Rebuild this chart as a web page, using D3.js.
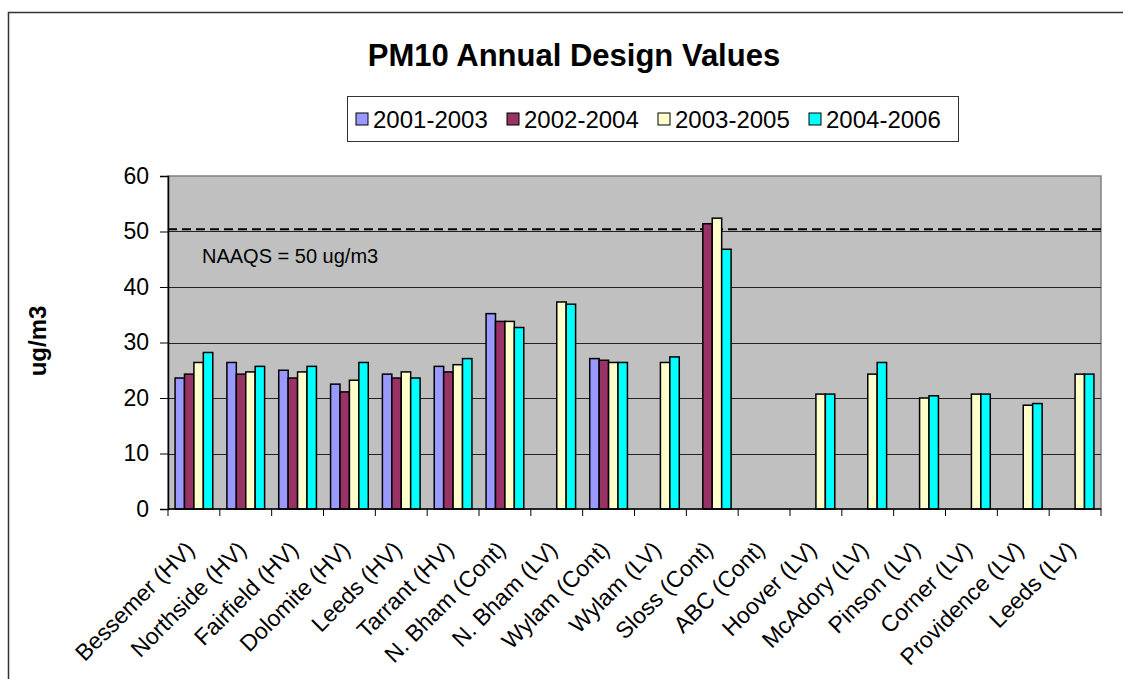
<!DOCTYPE html>
<html>
<head>
<meta charset="utf-8">
<script src="https://cdn.jsdelivr.net/npm/d3@7"></script>
<style>
  html, body { margin: 0; padding: 0; background: #fff; }
  #chart { width: 1123px; height: 679px; }
  text { font-family: Arial, "Liberation Sans", sans-serif; }
</style>
</head>
<body>
<div id="chart"></div>
<script>
const categories = ['Bessemer (HV)', 'Northside (HV)', 'Fairfield (HV)', 'Dolomite (HV)', 'Leeds (HV)',
    'Tarrant (HV)', 'N. Bham (Cont)', 'N. Bham (LV)', 'Wylam (Cont)', 'Wylam (LV)', 'Sloss (Cont)',
    'ABC (Cont)', 'Hoover (LV)', 'McAdory (LV)', 'Pinson (LV)', 'Corner (LV)', 'Providence (LV)', 'Leeds (LV)'];
const seriesNames = ['2001-2003', '2002-2004', '2003-2005', '2004-2006'];
const v2001_2003 = [23.6, 26.4, 25.0, 22.5, 24.3, 25.7, 35.2, null, 27.1, null, null, null, null, null, null, null, null, null];
const v2002_2004 = [24.3, 24.3, 23.6, 21.1, 23.6, 24.7, 33.8, null, 26.8, null, 51.4, null, null, null, null, null, null, null];
const v2003_2005 = [26.4, 24.7, 24.7, 23.2, 24.7, 26.0, 33.8, 37.3, 26.4, 26.4, 52.4, null, 20.7, 24.3, 20.0, 20.7, 18.7, 24.3];
const v2004_2006 = [28.2, 25.7, 25.7, 26.4, 23.6, 27.1, 32.7, 36.9, 26.4, 27.4, 46.8, null, 20.7, 26.4, 20.4, 20.7, 19.0, 24.3];
const yTicks = [0, 10, 20, 30, 40, 50, 60];
const naaqsLine = 50.4;
const naaqsLabel = 'NAAQS = 50 ug/m3';
const colors = ['#9999FF', '#993366', '#FFFFCC', '#00FFFF'];

class DesignValues {
    constructor(_config) {
        this.config = {
            parentElementSelector: _config.parentElementSelector,
            margin: _config.margin || { top: 176, right: 22, bottom: 170, left: 168 },
        };
        this.width = 1123 - this.config.margin.left - this.config.margin.right;
        this.height = 679 - this.config.margin.top - this.config.margin.bottom;
        this.initVis();
    }

    initVis() {
        const m = this.config.margin;
        this.svg = d3.select(this.config.parentElementSelector)
            .append('svg')
            .attr('width', 1123)
            .attr('height', 679);

        // chart area border (runs off the right and bottom of the picture)
        this.svg.append('rect')
            .attr('x', 8.5).attr('y', 12.5)
            .attr('width', 1300).attr('height', 800)
            .attr('fill', 'none').attr('stroke', '#333').attr('stroke-width', 1.5);

        this.svg.append('text')
            .attr('x', 574).attr('y', 66)
            .attr('text-anchor', 'middle')
            .style('font-size', '31px').style('font-weight', 'bold')
            .text('PM10 Annual Design Values');

        this.g = this.svg.append('g')
            .attr('transform', `translate(${m.left},${m.top})`);

        this.x = d3.scaleBand().domain(categories).range([0, this.width]).padding(0);
        this.xs = d3.scaleBand().domain(seriesNames)
            .range([0, this.x.bandwidth()]).paddingInner(0).paddingOuter(0.75);
        this.y = d3.scaleLinear().domain([0, 60]).range([this.height, 0]);

        this.updateVis();
    }

    updateVis() {
        const g = this.g;
        const series = [v2001_2003, v2002_2004, v2003_2005, v2004_2006];

        g.append('rect')
            .attr('width', this.width).attr('height', this.height)
            .attr('fill', '#C0C0C0').attr('stroke', '#808080').attr('stroke-width', 1.5);

        g.selectAll('.grid')
            .data(yTicks.filter(t => t > 0 && t < 60))
            .join('line')
            .attr('class', 'grid')
            .attr('x1', 0).attr('x2', this.width)
            .attr('y1', d => Math.round(this.y(d)) + 0.5).attr('y2', d => Math.round(this.y(d)) + 0.5)
            .attr('stroke', '#222').attr('stroke-width', 1);

        g.append('line')
            .attr('x1', 0).attr('x2', this.width)
            .attr('y1', this.y(naaqsLine)).attr('y2', this.y(naaqsLine))
            .attr('stroke', '#000').attr('stroke-width', 2).attr('stroke-dasharray', '9,5');

        g.append('text')
            .attr('x', 34).attr('y', this.y(44.3))
            .style('font-size', '20px')
            .text(naaqsLabel);

        const bars = [];
        series.forEach((vals, si) => {
            vals.forEach((v, ci) => {
                if (v != null) bars.push({ cat: categories[ci], s: seriesNames[si], v, c: colors[si] });
            });
        });

        g.selectAll('.bar')
            .data(bars)
            .join('rect')
            .attr('class', 'bar')
            .attr('x', d => this.x(d.cat) + this.xs(d.s))
            .attr('y', d => this.y(d.v))
            .attr('width', this.xs.bandwidth())
            .attr('height', d => this.height - this.y(d.v))
            .attr('fill', d => d.c)
            .attr('stroke', '#000').attr('stroke-width', 1.5);

        // y axis
        const yAxisG = g.append('g')
            .call(d3.axisLeft(this.y).tickValues(yTicks).tickSize(8).tickPadding(11));
        yAxisG.select('.domain').attr('stroke', '#000').attr('stroke-width', 1.5);
        yAxisG.selectAll('.tick line').attr('stroke', '#000');
        yAxisG.selectAll('text').style('font-size', '23px').attr('fill', '#000');

        // x axis: ticks at category boundaries
        g.append('line')
            .attr('x1', 0).attr('x2', this.width)
            .attr('y1', this.height).attr('y2', this.height)
            .attr('stroke', '#000').attr('stroke-width', 1.5);
        g.selectAll('.xtick')
            .data(d3.range(categories.length + 1))
            .join('line')
            .attr('class', 'xtick')
            .attr('x1', i => i * this.x.step()).attr('x2', i => i * this.x.step())
            .attr('y1', this.height).attr('y2', this.height + 7)
            .attr('stroke', '#000');

        g.selectAll('.xlabel')
            .data(categories)
            .join('text')
            .attr('class', 'xlabel')
            .attr('transform', d => `translate(${this.x(d) + this.x.bandwidth() / 2 + 2},${this.height + 42}) rotate(-45)`)
            .attr('text-anchor', 'end')
            .style('font-size', '23px')
            .text(d => d);

        this.svg.append('text')
            .attr('transform', `translate(46,341) rotate(-90)`)
            .attr('text-anchor', 'middle')
            .style('font-size', '24px').style('font-weight', 'bold')
            .text('ug/m3');

        // legend
        const lg = this.svg.append('g').attr('transform', 'translate(347,96)');
        lg.append('rect')
            .attr('x', 0.5).attr('y', 0.5).attr('width', 611).attr('height', 45)
            .attr('fill', '#fff').attr('stroke', '#333').attr('stroke-width', 1);
        const items = lg.selectAll('.item')
            .data(seriesNames)
            .join('g')
            .attr('class', 'item')
            .attr('transform', (d, i) => `translate(${9 + i * 151},0)`);
        items.append('rect')
            .attr('y', 17).attr('width', 12).attr('height', 12)
            .attr('fill', (d, i) => colors[i]).attr('stroke', '#000').attr('stroke-width', 1);
        items.append('text')
            .attr('x', 17).attr('y', 32)
            .style('font-size', '24px')
            .text(d => d);
    }
}

new DesignValues({ parentElementSelector: '#chart' });
</script>
</body>
</html>
